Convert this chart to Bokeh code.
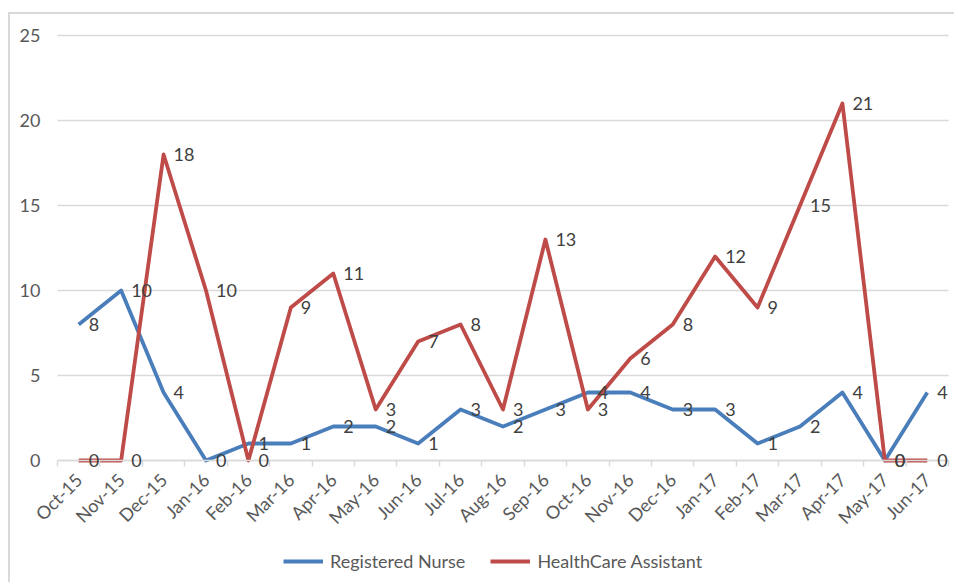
import math
from bokeh.plotting import figure
from bokeh.models import (Range1d, FixedTicker, ColumnDataSource, LabelSet,
                          Legend, LegendItem)
from bokeh.core.properties import value
from bokeh.embed import file_html
from bokeh.resources import INLINE

months = ["Oct-15", "Nov-15", "Dec-15", "Jan-16", "Feb-16", "Mar-16", "Apr-16",
          "May-16", "Jun-16", "Jul-16", "Aug-16", "Sep-16", "Oct-16", "Nov-16",
          "Dec-16", "Jan-17", "Feb-17", "Mar-17", "Apr-17", "May-17", "Jun-17"]
registered_nurse = [8, 10, 4, 0, 1, 1, 2, 2, 1, 3, 2, 3, 4, 4, 3, 3, 1, 2, 4, 0, 4]
healthcare_assistant = [0, 0, 18, 10, 0, 9, 11, 3, 7, 8, 3, 13, 3, 6, 8, 12, 9, 15, 21, 0, 0]
y_ticks = [0, 5, 10, 15, 20, 25]

FONT = "Lato"
FS = "18px"
BLUE = "#4a7ebb"
RED = "#be4b48"
GRID = "#d9d9d9"

n = len(months)
xs = [i + 0.5 for i in range(n)]

# frame covers the whole figure; the plotting area (0..n, 0..25) sits inside it
W, H = 946, 570
PX_X = 891 / n           # px per category
PX_Y = 17.0              # px per unit
LEFT_PAD, RIGHT_PAD = 47, 8
TOP_PAD, BOTTOM_PAD = 21, 124
x_lo = -LEFT_PAD / PX_X
x_hi = n + RIGHT_PAD / PX_X
y_hi = 25 + TOP_PAD / PX_Y
y_lo = -BOTTOM_PAD / PX_Y

p = figure(width=W, height=H, x_range=Range1d(x_lo, x_hi), y_range=Range1d(y_lo, y_hi),
           output_backend="svg", toolbar_location=None,
           min_border_left=0, min_border_right=0, min_border_top=0,
           min_border_bottom=0)
p.outline_line_color = None
p.background_fill_color = "white"
p.border_fill_color = "white"
p.styles = {"margin-left": "8px", "margin-top": "12px",
            "border-left": "2px solid #d9d9d9", "border-top": "2px solid #d9d9d9"}
p.xgrid.grid_line_color = None
p.ygrid.grid_line_color = None

# horizontal gridlines across the category span
p.segment(x0=[0] * len(y_ticks), x1=[n] * len(y_ticks), y0=y_ticks, y1=y_ticks,
          line_color=GRID, line_width=1.5)

src_rn = ColumnDataSource(dict(x=xs, y=registered_nurse,
                               t=[str(v) for v in registered_nurse]))
src_hca = ColumnDataSource(dict(x=xs, y=healthcare_assistant,
                                t=[str(v) for v in healthcare_assistant]))

r1 = p.line("x", "y", source=src_rn, line_color=BLUE, line_width=3.8,
            line_join="round")
r2 = p.line("x", "y", source=src_hca, line_color=RED, line_width=3.8,
            line_join="round")

for src in (src_rn, src_hca):
    p.add_layout(LabelSet(x="x", y="y", text="t", source=src, x_offset=10,
                          y_offset=0, text_align="left", text_baseline="middle",
                          text_font=value(FONT), text_font_size=value(FS),
                          text_color="#404040"))

# y axis at x = 0
p.yaxis.fixed_location = 0
p.yaxis.bounds = (0, 25)
p.yaxis.ticker = FixedTicker(ticks=y_ticks)
p.yaxis.axis_line_color = None
p.yaxis.major_tick_line_color = None
p.yaxis.minor_tick_line_color = None
p.yaxis.major_tick_out = 0
p.yaxis.major_tick_in = 0
p.yaxis.major_label_standoff = 17
p.yaxis.major_label_text_font = FONT
p.yaxis.major_label_text_font_size = FS
p.yaxis.major_label_text_color = "#595959"

# x axis at y = 0: labels at category centres, ticks at boundaries
p.xaxis.fixed_location = 0
p.xaxis.bounds = (0, n)
p.xaxis.ticker = FixedTicker(ticks=xs, minor_ticks=list(range(n + 1)))
p.xaxis.major_label_overrides = {x: m for x, m in zip(xs, months)}
p.xaxis.major_label_orientation = math.pi / 4
p.xaxis.axis_line_color = GRID
p.xaxis.axis_line_width = 1.5
p.xaxis.major_tick_line_color = None
p.xaxis.minor_tick_line_color = GRID
p.xaxis.minor_tick_line_width = 1.5
p.xaxis.minor_tick_in = 0
p.xaxis.minor_tick_out = 6
p.xaxis.major_label_standoff = 10
p.xaxis.major_label_text_font = FONT
p.xaxis.major_label_text_font_size = FS
p.xaxis.major_label_text_color = "#595959"

legend = Legend(items=[LegendItem(label="Registered Nurse", renderers=[r1]),
                       LegendItem(label="HealthCare Assistant", renderers=[r2])],
                location=(273, 12), orientation="horizontal",
                glyph_width=40, glyph_height=20, label_height=20,
                label_standoff=7, spacing=25, padding=0, margin=0,
                border_line_color=None, background_fill_alpha=0,
                label_text_font=FONT, label_text_font_size=FS,
                label_text_color="#595959")
p.add_layout(legend)

open("out.html", "w").write(file_html(p, INLINE))
